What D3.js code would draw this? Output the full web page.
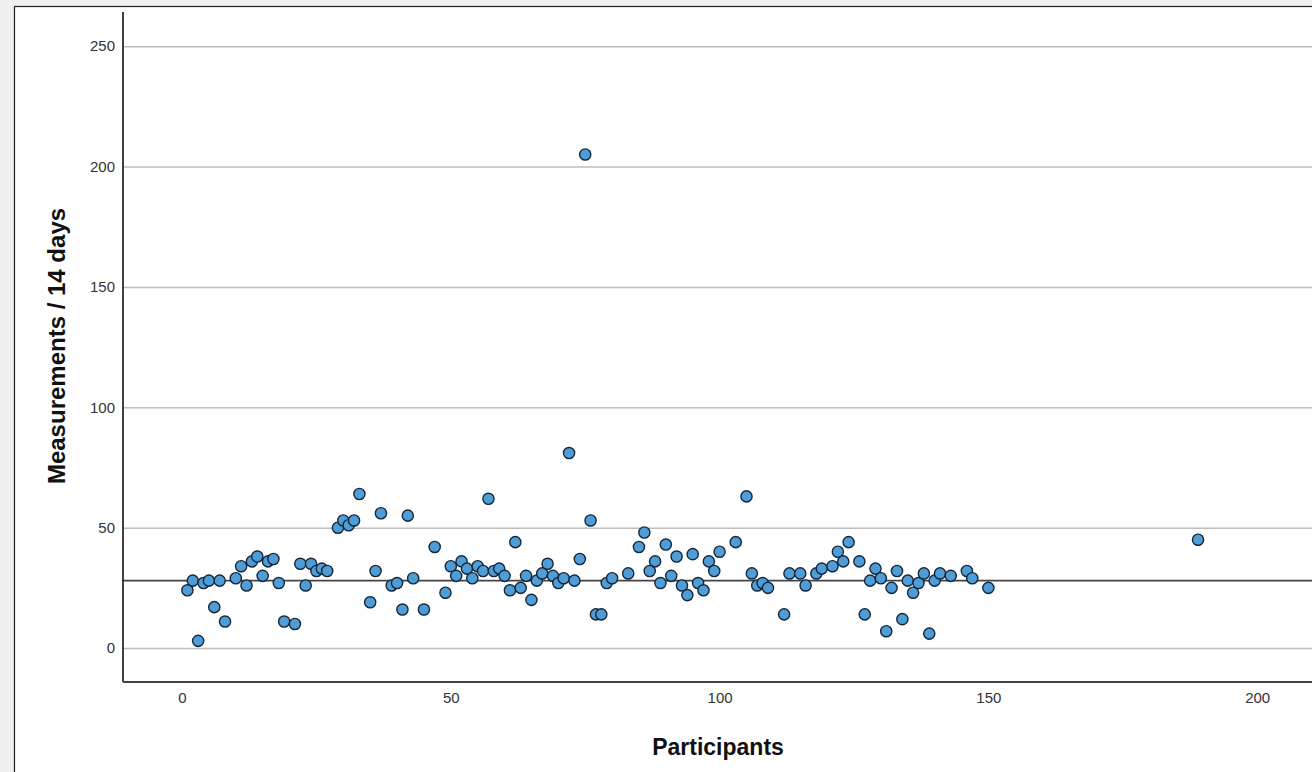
<!DOCTYPE html>
<html lang="en">
<head>
  <meta charset="UTF-8">
  <title>Measurements per participant</title>
  <script src="https://d3js.org/d3.v7.min.js"></script>
  <style>
    body { margin: 0; background: #f0f0f0; }
    svg { display: block; }
    .tick text { font-family: "Liberation Sans", Arial, sans-serif; font-size: 15px; fill: #333; }
    .title { font-family: "Liberation Sans", Arial, sans-serif; font-weight: bold; font-size: 23px; fill: #111; }
  </style>
</head>
<body>
<script>
// participant number (x) and measurements in 14 days (y)
var participants = [1, 2, 3, 4, 5, 6, 7, 8, 10, 11, 12, 13, 14, 15, 16, 17, 18, 19, 21, 22,
  23, 24, 25, 26, 27, 29, 30, 31, 32, 33, 35, 36, 37, 39, 40, 41, 42, 43, 45, 47,
  49, 50, 51, 52, 53, 54, 55, 56, 57, 58, 59, 60, 61, 62, 63, 64, 65, 66, 67, 68,
  69, 70, 71, 72, 73, 74, 75, 76, 77, 78, 79, 80, 83, 85, 86, 87, 88, 89, 90, 91,
  92, 93, 94, 95, 96, 97, 98, 99, 100, 103, 105, 106, 107, 108, 109, 112, 113, 115, 116, 118,
  119, 121, 122, 123, 124, 126, 127, 128, 129, 130, 131, 132, 133, 134, 135, 136, 137, 138, 139, 140,
  141, 143, 146, 147, 150, 189];
var measurements = [24, 28, 3, 27, 28, 17, 28, 11, 29, 34, 26, 36, 38, 30, 36, 37, 27, 11, 10, 35,
  26, 35, 32, 33, 32, 50, 53, 51, 53, 64, 19, 32, 56, 26, 27, 16, 55, 29, 16, 42,
  23, 34, 30, 36, 33, 29, 34, 32, 62, 32, 33, 30, 24, 44, 25, 30, 20, 28, 31, 35,
  30, 27, 29, 81, 28, 37, 205, 53, 14, 14, 27, 29, 31, 42, 48, 32, 36, 27, 43, 30,
  38, 26, 22, 39, 27, 24, 36, 32, 40, 44, 63, 31, 26, 27, 25, 14, 31, 31, 26, 31,
  33, 34, 40, 36, 44, 36, 14, 28, 33, 29, 7, 25, 32, 12, 28, 23, 27, 31, 6, 28,
  31, 30, 32, 29, 25, 45];
var xTicks = [0, 50, 100, 150, 200];
var yTicks = [0, 50, 100, 150, 200, 250];
var refValue = 28;

var W = 1312, H = 772;
var plotLeft = 123, plotTop = 12, plotRight = 1312, plotBottom = 682;

var svg = d3.select("body").append("svg")
  .attr("width", W)
  .attr("height", H);

// white chart panel with dark frame
svg.append("rect")
  .attr("x", 14.5).attr("y", 6.5)
  .attr("width", W).attr("height", H)
  .attr("fill", "#fff")
  .attr("stroke", "#222")
  .attr("stroke-width", 1.2);

var x = d3.scaleLinear().domain([-10.98, 210.2]).range([plotLeft, plotRight]);
var y = d3.scaleLinear().domain([-14.1, 264.2]).range([plotBottom, plotTop]);

// horizontal gridlines
svg.append("g")
  .attr("transform", "translate(" + plotLeft + ",0)")
  .call(d3.axisLeft(y).tickValues(yTicks).tickSize(-(plotRight - plotLeft)).tickFormat(""))
  .call(function(g) {
    g.select(".domain").remove();
    g.selectAll("line").attr("stroke", "#bdbdbd").attr("stroke-width", 1.5);
  });

// y tick labels
svg.append("g")
  .attr("transform", "translate(" + (plotLeft - 8) + ",0)")
  .call(d3.axisLeft(y).tickValues(yTicks).tickSize(0).tickPadding(0))
  .call(function(g) { g.select(".domain").remove(); });

// x tick labels
svg.append("g")
  .attr("transform", "translate(0," + (plotBottom + 2) + ")")
  .call(d3.axisBottom(x).tickValues(xTicks).tickSize(0).tickPadding(8))
  .call(function(g) { g.select(".domain").remove(); });

// reference line
svg.append("line")
  .attr("x1", plotLeft).attr("x2", plotRight)
  .attr("y1", y(refValue)).attr("y2", y(refValue))
  .attr("stroke", "#444")
  .attr("stroke-width", 1.6);

// axis lines
svg.append("line")
  .attr("x1", plotLeft).attr("x2", plotLeft)
  .attr("y1", plotTop).attr("y2", plotBottom)
  .attr("stroke", "#111").attr("stroke-width", 1.6);
svg.append("line")
  .attr("x1", plotLeft).attr("x2", plotRight)
  .attr("y1", plotBottom).attr("y2", plotBottom)
  .attr("stroke", "#444").attr("stroke-width", 1.8);

// points
svg.append("g")
  .selectAll("circle")
  .data(participants)
  .enter()
  .append("circle")
  .attr("cx", function(d) { return x(d); })
  .attr("cy", function(d, i) { return y(measurements[i]); })
  .attr("r", 5.6)
  .attr("fill", "#4f9dd6")
  .attr("stroke", "#15263a")
  .attr("stroke-width", 1.4);

// axis titles
svg.append("text")
  .attr("class", "title")
  .attr("x", 718).attr("y", 755)
  .attr("text-anchor", "middle")
  .text("Participants");

svg.append("text")
  .attr("class", "title")
  .attr("transform", "translate(65,346) rotate(-90)")
  .attr("text-anchor", "middle")
  .style("font-size", "24px")
  .text("Measurements / 14 days");
</script>
</body>
</html>
